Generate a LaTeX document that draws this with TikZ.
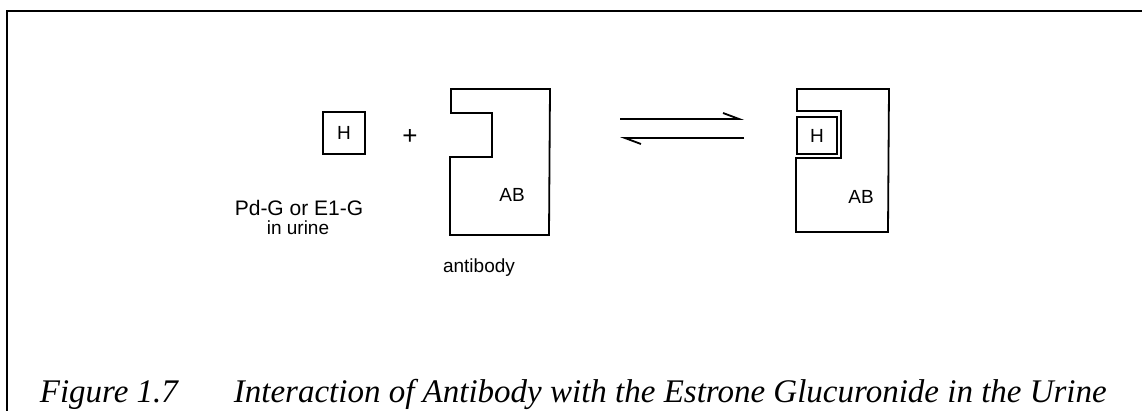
\documentclass[tikz,border=0pt]{standalone}
\usepackage{fontspec}
\setmainfont{Liberation Serif}
\setsansfont{Liberation Sans}
\usetikzlibrary{arrows.meta}

\begin{document}
\begin{tikzpicture}[x=0.5pt,y=-0.5pt,line width=0.9pt]
	\tikzstyle{every node}+=[inner sep=0pt]
	\tikzstyle{lbl}=[font=\sffamily\fontsize{9.5}{11}\selectfont]
	\tikzstyle{hapten}=[draw,lbl]
	\tikzstyle{harpoon}=[-{Straight Barb[left,length=8pt,width=6pt]}]
	\tikzstyle{caption}=[anchor=base west,font=\fontsize{16.5}{19}\selectfont\itshape]
	\useasboundingbox (0,0) rectangle (1142,411);
	% frame
	\draw [line width=1.3pt] (7,411) -- (7,11) -- (1142,11);
	% free hapten
	\node [hapten,minimum width=21pt,minimum height=21pt] (hfree) at (344,133) {H};
	\node [lbl,font=\sffamily\fontsize{13}{15}\selectfont] (plus) at (410,137) {+};
	\node [lbl,font=\sffamily\fontsize{10.5}{12}\selectfont] (srca) at (299,208) {Pd-G or E1-G};
	\node [lbl] (srcb) at (298,228) {in urine};
	% antibody
	\draw [black] (451,113) -- (451,89) -- (550,89) -- (549,235) -- (450,235) -- (450,157) -- (492,157) -- (492,113) -- cycle;
	\node [lbl] (abfree) at (512,195) {AB};
	\node [lbl] (ablbl) at (479,268) {antibody};
	% equilibrium
	\coordinate (fwdL) at (620,119);
	\coordinate (fwdR) at (744,119);
	\coordinate (revR) at (744,138);
	\coordinate (revL) at (620,138);
	\draw [harpoon] (fwdL) -- (fwdR);
	\draw [harpoon] (revR) -- (revL);
	% complex
	\draw [black] (797,111) -- (797,89) -- (889,89) -- (888,232) -- (796,232) -- (796,158) -- (841,158) -- (841,111) -- cycle;
	\node [hapten,minimum width=20pt,minimum height=18.5pt] (hbound) at (817,135.5) {H};
	\node [lbl] (abbound) at (861,197) {AB};
	% caption
	\node [caption] (fignum) at (39,403) {Figure 1.7};
	\node [caption] (figtext) at (233,403) {Interaction of Antibody with the Estrone Glucuronide in the Urine};
\end{tikzpicture}
\end{document}
